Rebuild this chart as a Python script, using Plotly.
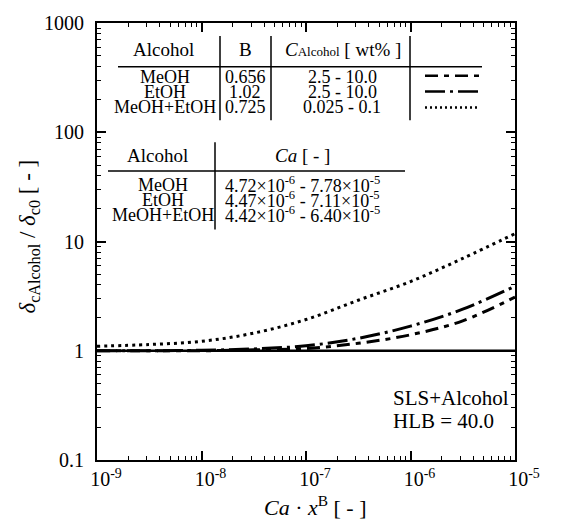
import plotly.graph_objects as go

# ---- data ----
x_vals = [1e-9, 3.16e-9, 1e-8, 3.16e-8, 1e-7, 3.16e-7, 1e-6, 3.16e-6, 1e-5]
meoh = [1.0, 1.0, 1.0, 1.02, 1.05, 1.17, 1.40, 1.88, 3.1]
etoh = [1.0, 1.0, 1.01, 1.04, 1.11, 1.30, 1.68, 2.4, 3.9]
mix = [1.1, 1.14, 1.22, 1.45, 1.93, 2.9, 4.3, 7.0, 11.8]
base_x = [1e-9, 1e-5]
base_y = [1.0, 1.0]

alcohols = ["MeOH", "EtOH", "MeOH+EtOH"]
b_vals = ["0.656", "1.02", "0.725"]
c_ranges = ["2.5 - 10.0", "2.5 - 10.0", "0.025 - 0.1"]
ca_ranges = ["4.72×10<sup>-6</sup> - 7.78×10<sup>-5</sup>",
             "4.47×10<sup>-6</sup> - 7.11×10<sup>-5</sup>",
             "4.42×10<sup>-6</sup> - 6.40×10<sup>-5</sup>"]

x_tickvals = [1e-9, 1e-8, 1e-7, 1e-6, 1e-5]
x_ticktext = ["10<sup>-9</sup>", "10<sup>-8</sup>", "10<sup>-7</sup>", "10<sup>-6</sup>", "10<sup>-5</sup>"]
y_tickvals = [0.1, 1, 10, 100, 1000]
y_ticktext = ["0.1", "1", "10", "100", "1000"]

W, H = 570, 522
L, R, T, B = 97, 515, 20, 460
FONT = "Liberation Serif, Times New Roman, serif"

def px(x):
    return (x - L) / (R - L)

def py(y):
    return (B - y) / (B - T)

MEOH_DASH = "13px,6px,5px,6px"
ETOH_DASH = "20px,5px,3px,5px"

fig = go.Figure()
fig.add_trace(go.Scatter(x=base_x, y=base_y, mode="lines",
                         line=dict(color="black", width=2.5), showlegend=False))
fig.add_trace(go.Scatter(x=x_vals, y=meoh, mode="lines", line_shape="spline",
                         line=dict(color="black", width=3, dash=MEOH_DASH), showlegend=False))
fig.add_trace(go.Scatter(x=x_vals, y=etoh, mode="lines", line_shape="spline",
                         line=dict(color="black", width=3, dash=ETOH_DASH), showlegend=False))
fig.add_trace(go.Scatter(x=x_vals, y=mix, mode="lines", line_shape="spline",
                         line=dict(color="black", width=3, dash="3px,4px"), showlegend=False))

ann = []
shapes = []

def text(x, y, s, size=18, xanchor="center", angle=0):
    ann.append(dict(x=px(x), y=py(y), xref="paper", yref="paper", text=s, showarrow=False,
                    xanchor=xanchor, yanchor="middle", borderpad=0, textangle=angle,
                    font=dict(family=FONT, size=size, color="black")))

def line(x0, y0, x1, y1, width=1.5, dash="solid"):
    shapes.append(dict(type="line", xref="paper", yref="paper", x0=px(x0), y0=py(y0), x1=px(x1), y1=py(y1),
                       line=dict(color="black", width=width, dash=dash)))

# Table 1
text(163, 47, "Alcohol", 19)
text(245, 47, "B", 19)
text(343, 47, "<i>C</i><span style='font-size:13px'>Alcohol</span> [ wt% ]", 19)
line(118, 64, 482, 64)
for xv in (220, 271, 410):
    line(xv, 33, xv, 118)
rows1 = [74, 89, 105]
for i, yv in enumerate(rows1):
    text(165, yv, alcohols[i], 18)
    text(245, yv, b_vals[i], 18)
    text(342, yv, c_ranges[i], 18)
line(425, 73, 480, 73, width=2.5, dash=MEOH_DASH)
line(425, 89, 480, 89, width=2.5, dash=ETOH_DASH)
line(425, 105, 480, 105, width=2.5, dash="2px,3px")

# Table 2
text(157, 153, "Alcohol", 19)
text(302, 153, "<i>Ca</i> [ - ]", 19)
line(108, 169, 405, 169)
line(215, 140, 215, 228)
rows2 = [183, 198, 213]
for i, yv in enumerate(rows2):
    text(163, yv, alcohols[i], 18)
    text(302, yv, ca_ranges[i], 18)

# Condition label
text(392, 398, "SLS+Alcohol", 21, xanchor="left")
text(392, 421, "HLB = 40.0", 21, xanchor="left")

# Axis titles
text(29, 235, "<i>δ</i><sub>cAlcohol</sub> / <i>δ</i><sub>c0</sub> [ - ]", 23, angle=-90)
text(315, 506, "<i>Ca</i> · <i>x</i><sup>B</sup> [ - ]", 22)

axis_common = dict(showgrid=False, zeroline=False, showline=True, linecolor="black", linewidth=2,
                   mirror="allticks", ticks="inside", ticklen=9, tickwidth=1.5, tickcolor="black",
                   minor=dict(ticks="inside", ticklen=4, tickwidth=1.2, tickcolor="black", dtick="D1", showgrid=False),
                   tickfont=dict(family=FONT, size=20, color="black"))

fig.update_xaxes(type="log", range=[-9, -5], tickvals=x_tickvals, ticktext=x_ticktext,
                 ticklabelshift=9, **axis_common)
fig.update_yaxes(type="log", range=[-1, 3], tickvals=y_tickvals, ticktext=y_ticktext,
                 ticklabelstandoff=7, **axis_common)

fig.update_layout(width=W, height=H, margin=dict(l=L, r=W - R, t=T, b=H - B),
                  plot_bgcolor="white", paper_bgcolor="white",
                  annotations=ann, shapes=shapes, showlegend=False)

fig.write_html("out.html", config={"displayModeBar": False},
               post_script="document.body.style.margin='0';document.body.style.padding='0';")
